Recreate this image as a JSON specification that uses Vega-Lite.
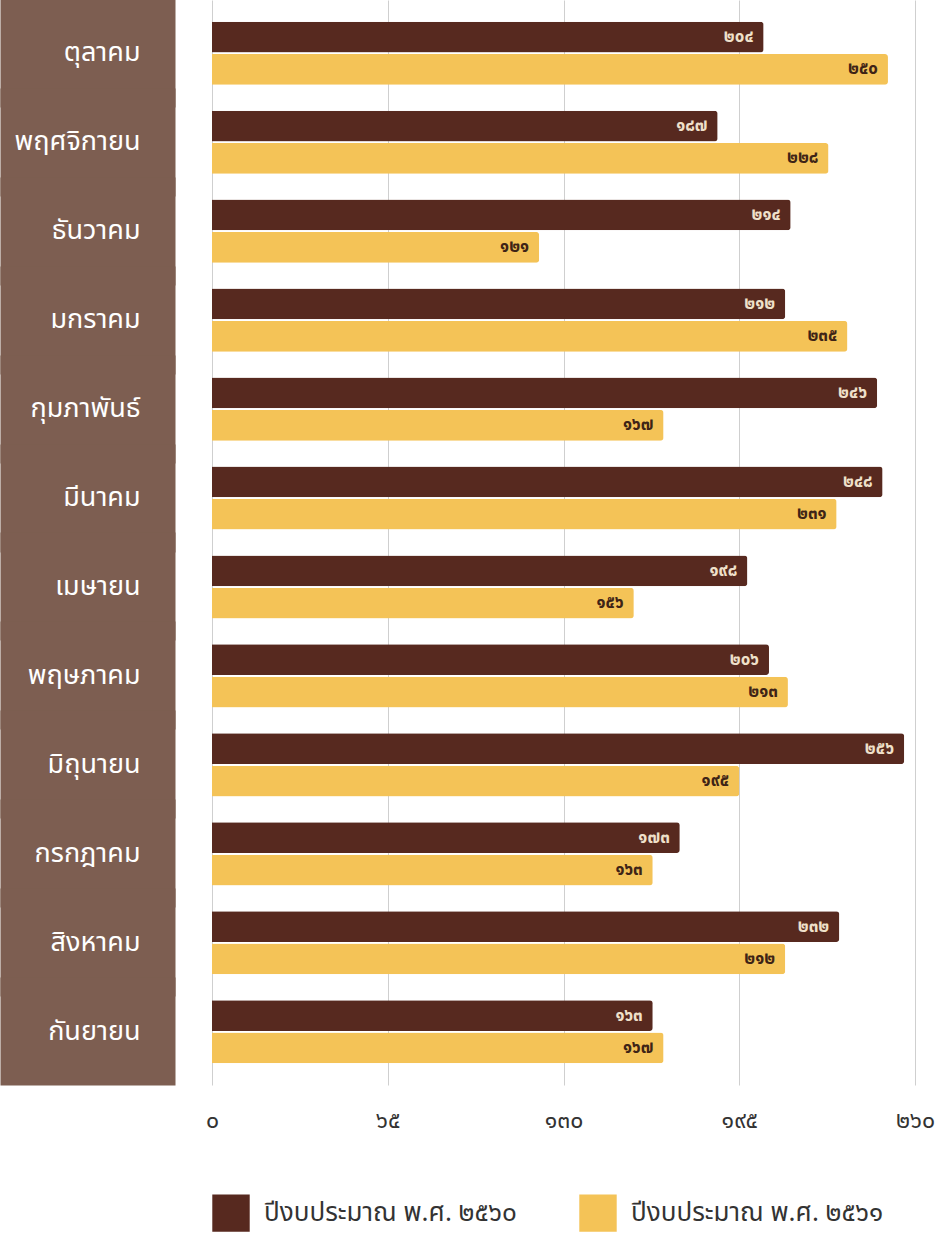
{
  "$schema": "https://vega.github.io/schema/vega-lite/v6.json",
  "width": 703,
  "height": 1085,
  "autosize": {"type": "none"},
  "padding": {"left": 212, "top": 0, "right": 21, "bottom": 149},
  "background": "white",
  "config": {"view": {"stroke": null}, "font": "Noto Sans Thai"},
  "data": {
    "values": [
      {"month": "ตุลาคม", "series": "ปีงบประมาณ พ.ศ. ๒๕๖๐", "value": 204},
      {"month": "ตุลาคม", "series": "ปีงบประมาณ พ.ศ. ๒๕๖๑", "value": 250},
      {"month": "พฤศจิกายน", "series": "ปีงบประมาณ พ.ศ. ๒๕๖๐", "value": 187},
      {"month": "พฤศจิกายน", "series": "ปีงบประมาณ พ.ศ. ๒๕๖๑", "value": 228},
      {"month": "ธันวาคม", "series": "ปีงบประมาณ พ.ศ. ๒๕๖๐", "value": 214},
      {"month": "ธันวาคม", "series": "ปีงบประมาณ พ.ศ. ๒๕๖๑", "value": 121},
      {"month": "มกราคม", "series": "ปีงบประมาณ พ.ศ. ๒๕๖๐", "value": 212},
      {"month": "มกราคม", "series": "ปีงบประมาณ พ.ศ. ๒๕๖๑", "value": 235},
      {"month": "กุมภาพันธ์", "series": "ปีงบประมาณ พ.ศ. ๒๕๖๐", "value": 246},
      {"month": "กุมภาพันธ์", "series": "ปีงบประมาณ พ.ศ. ๒๕๖๑", "value": 167},
      {"month": "มีนาคม", "series": "ปีงบประมาณ พ.ศ. ๒๕๖๐", "value": 248},
      {"month": "มีนาคม", "series": "ปีงบประมาณ พ.ศ. ๒๕๖๑", "value": 231},
      {"month": "เมษายน", "series": "ปีงบประมาณ พ.ศ. ๒๕๖๐", "value": 198},
      {"month": "เมษายน", "series": "ปีงบประมาณ พ.ศ. ๒๕๖๑", "value": 156},
      {"month": "พฤษภาคม", "series": "ปีงบประมาณ พ.ศ. ๒๕๖๐", "value": 206},
      {"month": "พฤษภาคม", "series": "ปีงบประมาณ พ.ศ. ๒๕๖๑", "value": 213},
      {"month": "มิถุนายน", "series": "ปีงบประมาณ พ.ศ. ๒๕๖๐", "value": 256},
      {"month": "มิถุนายน", "series": "ปีงบประมาณ พ.ศ. ๒๕๖๑", "value": 195},
      {"month": "กรกฎาคม", "series": "ปีงบประมาณ พ.ศ. ๒๕๖๐", "value": 173},
      {"month": "กรกฎาคม", "series": "ปีงบประมาณ พ.ศ. ๒๕๖๑", "value": 163},
      {"month": "สิงหาคม", "series": "ปีงบประมาณ พ.ศ. ๒๕๖๐", "value": 232},
      {"month": "สิงหาคม", "series": "ปีงบประมาณ พ.ศ. ๒๕๖๑", "value": 212},
      {"month": "กันยายน", "series": "ปีงบประมาณ พ.ศ. ๒๕๖๐", "value": 163},
      {"month": "กันยายน", "series": "ปีงบประมาณ พ.ศ. ๒๕๖๑", "value": 167}
    ]
  },
  "transform": [
    {"calculate": "replace(replace(replace(replace(replace(replace(replace(replace(replace(replace(toString(datum.value), regexp('0','g'), '๐'), regexp('1','g'), '๑'), regexp('2','g'), '๒'), regexp('3','g'), '๓'), regexp('4','g'), '๔'), regexp('5','g'), '๕'), regexp('6','g'), '๖'), regexp('7','g'), '๗'), regexp('8','g'), '๘'), regexp('9','g'), '๙')", "as": "label"}
  ],
  "encoding": {
    "y": {
      "field": "month",
      "type": "nominal",
      "sort": ["ตุลาคม", "พฤศจิกายน", "ธันวาคม", "มกราคม", "กุมภาพันธ์", "มีนาคม", "เมษายน", "พฤษภาคม", "มิถุนายน", "กรกฎาคม", "สิงหาคม", "กันยายน"],
      "scale": {"paddingInner": 0.29, "paddingOuter": 0.244},
      "axis": {
        "title": null,
        "offset": 37,
        "domain": false,
        "ticks": true,
        "tickSize": 175,
        "tickWidth": 108,
        "tickColor": "#7d5e51",
        "tickOpacity": 1,
        "tickRound": true,
        "labelPadding": -140,
        "labelColor": "white",
        "labelFontSize": 27,
        "labelFont": "Noto Sans Thai",
        "labelLimit": 300,
        "grid": false
      }
    },
    "yOffset": {
      "field": "series",
      "type": "nominal",
      "sort": ["ปีงบประมาณ พ.ศ. ๒๕๖๐", "ปีงบประมาณ พ.ศ. ๒๕๖๑"],
      "scale": {"paddingInner": 0.05}
    },
    "x": {
      "field": "value",
      "type": "quantitative",
      "scale": {"domain": [0, 260], "nice": false},
      "axis": {
        "title": null,
        "domain": false,
        "ticks": false,
        "values": [0, 65, 130, 195, 260],
        "grid": true,
        "gridColor": "#cfcfcf",
        "labelFlush": false,
        "labelFontSize": 23,
        "labelColor": "#333333",
        "labelPadding": 24,
        "labelFont": "Noto Sans Thai",
        "labelExpr": "replace(replace(replace(replace(replace(replace(replace(replace(replace(replace(datum.label, regexp('0','g'), '๐'), regexp('1','g'), '๑'), regexp('2','g'), '๒'), regexp('3','g'), '๓'), regexp('4','g'), '๔'), regexp('5','g'), '๕'), regexp('6','g'), '๖'), regexp('7','g'), '๗'), regexp('8','g'), '๘'), regexp('9','g'), '๙')"
      }
    }
  },
  "layer": [
    {
      "mark": {"type": "bar", "cornerRadiusEnd": 3},
      "encoding": {
        "color": {
          "field": "series",
          "type": "nominal",
          "sort": ["ปีงบประมาณ พ.ศ. ๒๕๖๐", "ปีงบประมาณ พ.ศ. ๒๕๖๑"],
          "scale": {"range": ["#57291f", "#f4c357"]},
          "legend": {
            "orient": "bottom",
            "direction": "horizontal",
            "title": null,
            "symbolType": "square",
            "symbolSize": 1400,
            "symbolStrokeWidth": 0,
            "labelFontSize": 26,
            "labelColor": "#333333",
            "labelFont": "Noto Sans Thai",
            "labelLimit": 400,
            "labelOffset": 14,
            "columnPadding": 62,
            "offset": 62
          }
        }
      }
    },
    {
      "mark": {"type": "text", "align": "right", "baseline": "middle", "dx": -10, "fontSize": 17, "fontWeight": "bold"},
      "encoding": {
        "text": {"field": "label"},
        "color": {
          "condition": {"test": "datum.series == 'ปีงบประมาณ พ.ศ. ๒๕๖๐'", "value": "#efe0ca"},
          "value": "#3e2416"
        }
      }
    }
  ]
}
